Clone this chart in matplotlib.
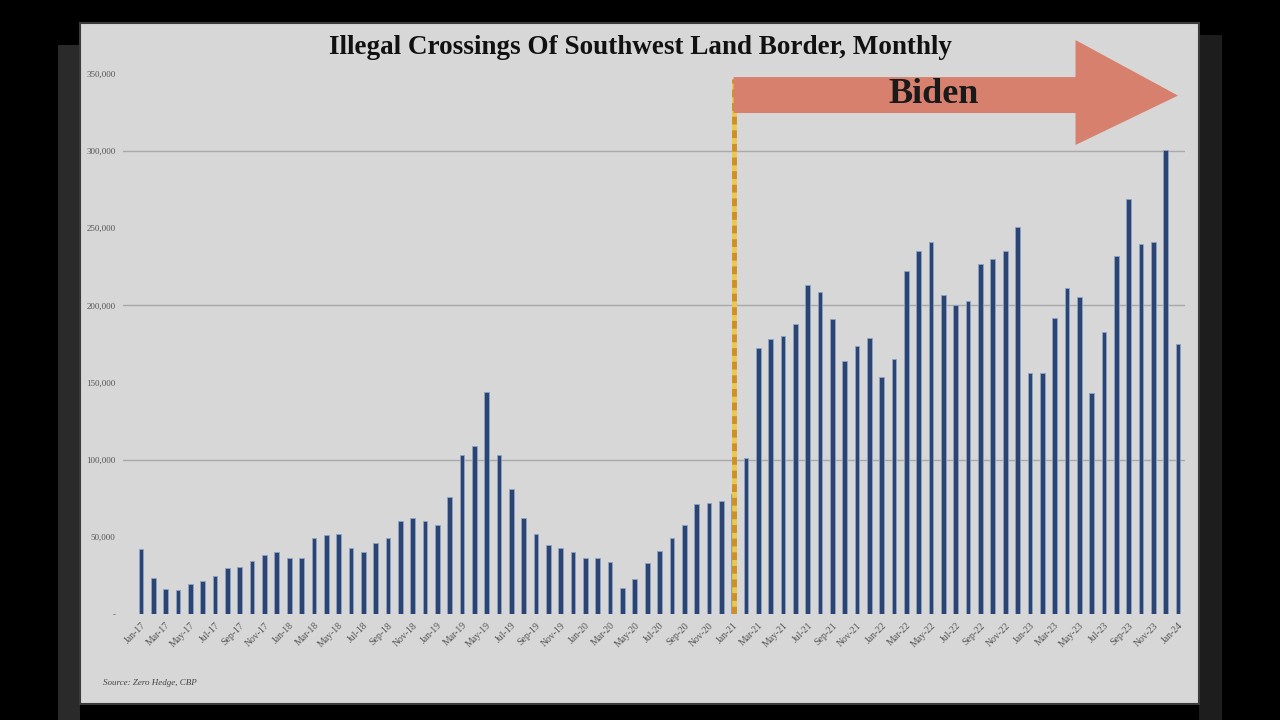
import numpy as np
import matplotlib.pyplot as plt
from matplotlib.patches import Rectangle, Polygon

# monthly southwest border crossings, thousands, Jan 2017 .. Jan 2024
crossings_k = [42, 23.6, 16, 15.5, 19.5, 21.5, 24.5, 30, 30.5, 34.5, 38.5, 40,
               36, 36, 49.5, 51, 52, 42.5, 40, 46, 49.5, 60, 62, 60,
               58, 76, 103, 109, 144, 103, 81, 62, 52, 45, 42.5, 40,
               36, 36, 34, 17, 23, 33, 41, 49.5, 58, 71, 72, 73,
               77.5, 101, 172.5, 178, 180, 188, 213, 209, 191, 164, 174, 179,
               153.5, 165, 222, 235, 241, 207, 200, 203, 227, 230, 235, 251,
               156.5, 156, 192, 211, 205.5, 143.5, 183, 232, 269, 240, 241, 301,
               175]
month_names = ["Jan", "Feb", "Mar", "Apr", "May", "Jun",
               "Jul", "Aug", "Sep", "Oct", "Nov", "Dec"]
years = ["17", "18", "19", "20", "21", "22", "23", "24"]
biden_start = "Jan-21"
yticks = [0, 50000, 100000, 150000, 200000, 250000, 300000, 350000]

labels = [m + "-" + y for y in years for m in month_names][:len(crossings_k)]
values = np.array(crossings_k) * 1000
idx = np.arange(len(values))
start = labels.index(biden_start)

W, H = 1280, 720
fig = plt.figure(figsize=(12.8, 7.2), dpi=100)
fig.patch.set_facecolor("black")

def frect(x0, y0, x1, y1, **kw):
    # rectangle given in pixel coords (top-left origin)
    fig.patches.append(Rectangle((x0 / W, 1 - y1 / H), (x1 - x0) / W, (y1 - y0) / H,
                                 transform=fig.transFigure, zorder=-10, **kw))

frect(58, 45, 80, 720, facecolor="#2a2a2a", edgecolor="none")
frect(1199, 35, 1222, 720, facecolor="#1d1d1d", edgecolor="none")
frect(80, 23, 1199, 704, facecolor="#d7d7d7", edgecolor="#3a3a3a", linewidth=1.5)

ax = fig.add_axes([122.5 / W, 1 - 614 / H, (1185.4 - 122.5) / W, (614 - 74) / H])
ax.set_zorder(5)
ax.set_facecolor("none")
ax.set_xlim(-1.5, len(values) - 0.4)
ax.set_ylim(0, 350000)

for v in (100000, 200000, 300000):
    ax.axhline(v, color="#a9a9a9", linewidth=1, zorder=0)

ax.bar(idx, values, width=0.38, color="#2c4472", edgecolor="#8ea3c8",
       linewidth=0.6, zorder=2)

# Biden marker line
ax.plot([start, start], [0, 347000], color="#ecc94e", linewidth=3.5, zorder=3,
        solid_capstyle="butt")
ax.plot([start, start], [0, 347000], color="#cf8f22", linewidth=3.5, zorder=4,
        dashes=(1.6, 1.2))

# arrow
head_x = 75.7
tip_x = len(values) - 1
arrow = Polygon([(start, 348000), (head_x, 348000), (head_x, 372000), (tip_x, 336000),
                 (head_x, 304000), (head_x, 324700), (start, 324700)],
                closed=True, facecolor="#d8806e", edgecolor="none", zorder=5,
                clip_on=False)
ax.add_patch(arrow)
ax.text(64.2, 336500, "Biden", fontsize=26, fontweight="bold",
        family="Liberation Serif", color="#1a1a1a", ha="center", va="center", zorder=6,
        clip_on=False)

for s in ax.spines.values():
    s.set_visible(False)

ax.set_yticks(yticks)
ax.set_yticklabels(["-"] + [f"{v:,}" for v in yticks[1:]], family="Liberation Serif",
                   fontsize=6.5, color="#555555")
ax.set_xticks(idx[::2])
ax.set_xticklabels(labels[::2], rotation=45, ha="right", rotation_mode="anchor",
                   family="Liberation Serif", fontsize=7, color="#555555")
ax.tick_params(length=0, pad=5)

fig.text(640 / W, 1 - 47 / H, "Illegal Crossings Of Southwest Land Border, Monthly",
         family="Liberation Serif", fontweight="bold", fontsize=19.5, color="#111111",
         ha="center", va="center")
fig.text(103 / W, 1 - 683 / H, "Source: Zero Hedge, CBP", family="Liberation Serif",
         style="italic", fontsize=6.5, color="#444444", ha="left", va="center")

fig.savefig("out.png", dpi=100, facecolor=fig.get_facecolor())
